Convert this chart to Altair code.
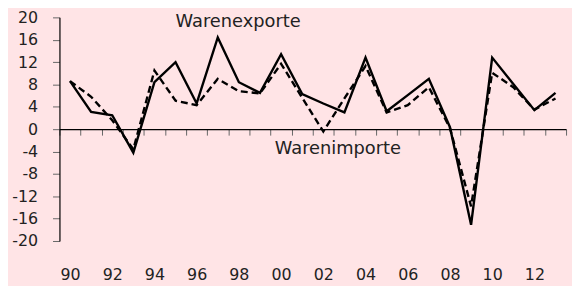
import altair as alt
import pandas as pd

years = list(range(1990, 2014))
exporte = [8.6, 3.1, 2.5, -4.2, 8.4, 12.0, 4.6, 16.4, 8.4, 6.5, 13.4, 6.3,
           4.6, 3.0, 12.8, 3.2, 6.1, 9.0, 0.35, -17.1, 12.8, 8.1, 3.4, 6.5]
importe = [8.6, 5.8, 1.6, -3.6, 10.5, 5.1, 4.3, 9.0, 6.8, 6.4, 11.7, 5.6,
           -0.4, 5.5, 11.3, 3.0, 4.3, 7.5, 0.2, -13.8, 10.1, 7.5, 3.5, 5.5]
y_ticks = list(range(-20, 21, 4))
label_text = ["Warenexporte", "Warenimporte"]
label_x = [1995.0, 1999.7]
label_y = [19.2, -3.6]

df = pd.DataFrame({"year": years, "exp": exporte, "imp": importe})
lab = pd.DataFrame({"text": label_text, "year": label_x, "val": label_y})

W, H = 512, 226
step = W / len(years)
FONT = "DejaVu Sans"
BG = "#FFE4E6"

tick_vals = [y - 0.5 for y in years] + [years[-1] + 0.5]
xs = alt.Scale(domain=[years[0] - 0.5, years[-1] + 0.5], nice=False, zero=False)
ys = alt.Scale(domain=[-20, 20], nice=False, zero=False)

xaxis = alt.Axis(
    values=tick_vals, offset=-H / 2, tickSize=6, tickColor="#666", tickWidth=1,
    domainColor="#000", domainWidth=1.2, labelOffset=step / 2,
    labelExpr="(datum.value + 0.5) % 2 == 0 && datum.value < 2013 ? slice(toString(datum.value + 0.5), 2) : ''",
    labelPadding=133, labelFontSize=16, labelFont=FONT, labelColor="#222",
    title=None, grid=False, labelFlush=False, labelOverlap=False, labelBound=False,
)
yaxis = alt.Axis(
    values=y_ticks, tickSize=7, tickColor="#666", tickWidth=1,
    domainColor="#000", domainWidth=1.2, labelPadding=15, labelFontSize=16,
    labelExpr="toString(datum.value)",
    labelFont=FONT, labelColor="#222", title=None, grid=False,
    labelFlush=False, labelOverlap=False, labelBound=False,
)

base = alt.Chart(df)
solid = base.mark_line(color="black", strokeWidth=2.4).encode(
    x=alt.X("year:Q", scale=xs, axis=xaxis),
    y=alt.Y("exp:Q", scale=ys, axis=yaxis),
)
dashed = base.mark_line(color="black", strokeWidth=2.4, strokeDash=[7, 4]).encode(
    x=alt.X("year:Q", scale=xs, axis=xaxis),
    y=alt.Y("imp:Q", scale=ys, axis=yaxis),
)
text = alt.Chart(lab).mark_text(
    align="left", baseline="middle", font=FONT, fontSize=18, color="#222"
).encode(
    x=alt.X("year:Q", scale=xs, axis=xaxis),
    y=alt.Y("val:Q", scale=ys, axis=yaxis),
    text="text:N",
)

chart = alt.layer(solid, dashed, text).properties(
    width=W, height=H,
    autosize=alt.AutoSizeParams(type="none"),
    padding={"left": 52, "top": 8, "right": 6, "bottom": 44},
    background=BG,
).configure_view(stroke=None)

chart.save("out.html", embed_options={"renderer": "svg", "actions": False})
